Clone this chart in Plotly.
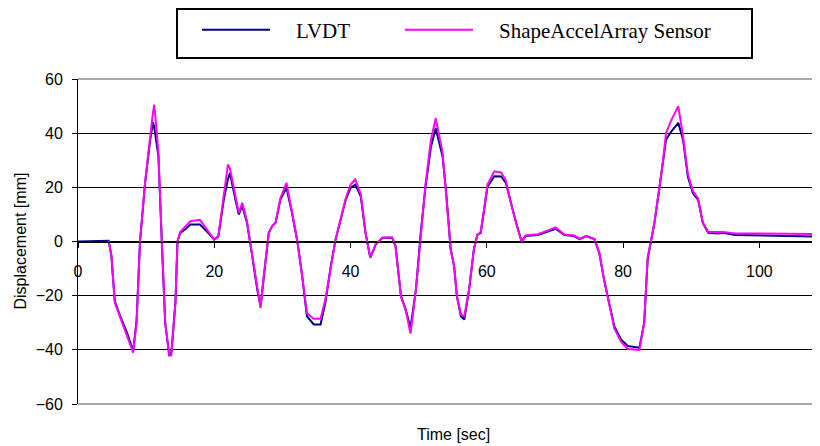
import plotly.graph_objects as go

# Time [sec]
time = [
    0, 4.0, 4.5, 4.9, 5.4, 6.2, 7.2, 8.1, 8.6, 9.1,
    9.85, 10.6, 11.0, 11.2, 11.8, 12.3, 12.8, 13.4, 13.7, 14.3,
    14.6, 15.0, 15.7, 16.5, 17.9, 18.9, 20.0, 20.6, 21.4, 22.0,
    22.3, 23.1, 23.6, 24.1, 24.8, 25.5, 26.3, 26.8, 27.25, 28.0,
    28.5, 29.0, 29.7, 30.6, 31.4, 32.2, 32.9, 33.6, 34.6, 35.6,
    36.3, 37.1, 37.8, 38.3, 39.3, 40.0, 40.7, 41.5, 42.2, 42.9,
    43.7, 44.7, 46.1, 46.6, 47.4, 48.1, 48.8, 49.6, 50.3, 51.0,
    51.8, 52.5, 53.5, 54.0, 54.7, 55.2, 55.6, 56.2, 56.7, 57.4,
    58.1, 58.6, 59.1, 59.6, 60.1, 61.1, 62.1, 62.8, 63.5, 64.3,
    65.1, 65.7, 67.5, 68.9, 70.1, 71.4, 72.8, 73.6, 74.6, 75.8,
    76.5, 77.2, 77.75, 78.7, 79.7, 80.7, 82.4, 83.1, 83.6, 84.1,
    84.6, 85.3, 85.8, 86.3, 87.1, 88.1, 88.8, 89.5, 90.25, 91.0,
    91.7, 92.5, 93.9, 94.7, 96.4, 102.3, 108.1, 108.5, 108.9,
]

# LVDT displacement [mm]
lvdt = [
    0, 0.5, 0.3, -5.4, -22.0, -27.6, -33.7, -40.5, -29.0, 0.0,
    21.6, 37.6, 44.0, 42.0, 31.5, 0.0, -30.0, -42.3, -41.0, -22.5,
    0.0, 3.2, 4.4, 6.3, 6.3, 3.8, 0.7, 1.9, 15.5, 23.0,
    25.3, 15.5, 10.0, 13.2, 6.9, -4.2, -17.7, -23.9, -12.8, 3.2,
    5.7, 6.9, 15.5, 19.8, 10.6, 0.0, -12.8, -27.6, -30.6, -30.6,
    -22.6, -9.1, 0.7, 5.7, 15.5, 19.8, 21.0, 16.7, 3.2, -6.0,
    -1.1, 1.4, 1.4, -1.7, -20.2, -25.1, -31.9, -17.7, 3.2, 20.2,
    35.0, 41.8, 31.5, 19.2, -2.9, -9.1, -20.2, -27.6, -28.8, -17.7,
    -2.9, 2.4, 3.2, 11.6, 20.2, 24.1, 24.0, 21.6, 14.3, 6.9,
    0.0, 2.0, 2.4, 3.8, 4.7, 2.4, 2.0, 0.9, 2.0, 0.9,
    -4.2, -14.0, -20.2, -31.3, -36.2, -38.6, -39.2, -30.0, -6.6, 0.7,
    6.9, 19.2, 27.8, 37.6, 40.7, 43.8, 37.6, 24.0, 17.8, 15.5,
    6.9, 3.2, 3.0, 3.2, 2.4, 2.0, 1.8, 5.7, 10.6,
]

# ShapeAccelArray sensor displacement [mm]
saa = [
    None, None, 0.3, -5.0, -22.5, -28.0, -34.5, -41.0, -30.0, 0.0,
    22.0, 40.0, 47.5, 50.5, 33.0, 0.0, -30.0, -42.0, -42.0, -22.5,
    0.0, 3.5, 5.5, 7.5, 8.0, 4.5, 0.7, 2.0, 16.0, 28.4,
    27.0, 16.0, 10.5, 14.3, 7.5, -4.0, -17.7, -24.5, -12.8, 3.2,
    5.7, 6.9, 16.0, 21.6, 11.0, 0.0, -12.8, -26.5, -28.5, -28.5,
    -21.5, -9.0, 0.7, 5.7, 16.0, 21.0, 22.9, 17.5, 3.2, -6.0,
    -1.0, 1.5, 1.5, -1.7, -20.2, -25.5, -34.0, -17.7, 3.2, 21.0,
    37.5, 45.5, 33.0, 19.2, -2.9, -9.1, -20.0, -27.0, -27.6, -17.7,
    -2.9, 2.4, 3.5, 12.0, 21.0, 25.9, 25.5, 22.5, 14.5, 6.9,
    0.0, 2.2, 2.7, 4.0, 5.2, 2.6, 2.2, 1.0, 2.0, 0.9,
    -4.0, -14.0, -20.5, -32.0, -37.0, -39.7, -40.0, -30.0, -6.0, 0.7,
    6.9, 19.5, 28.5, 40.0, 44.9, 50.0, 38.8, 25.0, 18.5, 16.0,
    7.0, 3.5, 3.4, 3.5, 3.0, 3.0, 2.8, None, None,
]

x_ticks = [0, 20, 40, 60, 80, 100]
y_ticks = [-60, -40, -20, 0, 20, 40, 60]

assert len(time) == len(lvdt) == len(saa)

PAD = "\u00a0\u00a0\u00a0\u00a0"

fig = go.Figure()
fig.add_trace(go.Scatter(
    x=time, y=lvdt, mode="lines", name=PAD + "LVDT",
    line=dict(color="#000080", width=2), legendwidth=120,
))
fig.add_trace(go.Scatter(
    x=time, y=saa, mode="lines", name=PAD + "ShapeAccelArray Sensor",
    line=dict(color="#FF00FF", width=2), connectgaps=False, legendwidth=240,
))

# the page has an 8px body margin, so the figure is 8px smaller than the window
OFF = 8
W, H = 820 - OFF, 446 - OFF
L, R, T, B = 78 - OFF, 0, 79 - OFF, 446 - 404
pw, ph = W - L - R, H - T - B

def px_to_paper_x(px):
    return (px - OFF - L) / pw

def px_to_paper_y(py):
    return (H - B - (py - OFF)) / ph

fig.update_layout(
    width=W, height=H,
    margin=dict(l=L, r=R, t=T, b=B),
    paper_bgcolor="white", plot_bgcolor="white",
    font=dict(family="Liberation Sans, Arial, sans-serif", size=16, color="black"),
    showlegend=True,
    legend=dict(
        orientation="h",
        x=px_to_paper_x(197), xanchor="left",
        y=px_to_paper_y(30), yanchor="middle",
        font=dict(family="Liberation Serif, Times New Roman, serif", size=21, color="black"),
        bgcolor="rgba(0,0,0,0)", borderwidth=0,
        itemwidth=68,
    ),
    xaxis=dict(
        range=[0, 108.9], tickvals=x_ticks,
        showgrid=False, zeroline=False,
        showline=True, linecolor="black", linewidth=1,
        ticks="outside", ticklen=5, tickcolor="black",
        anchor="free", position=0.5,
        ticklabelstandoff=10,
        tickfont=dict(size=16),
    ),
    yaxis=dict(
        range=[-60, 60], tickvals=y_ticks,
        showgrid=True, gridcolor="black", gridwidth=1,
        zeroline=False,
        showline=True, linecolor="black", linewidth=1,
        ticks="outside", ticklen=5, tickcolor="black",
        ticklabelstandoff=6,
        tickfont=dict(size=16),
    ),
    shapes=[
        dict(type="line", xref="paper", yref="paper", x0=0, x1=1, y0=1, y1=1,
             line=dict(color="#8c8c8c", width=1.5), layer="between"),
        dict(type="line", xref="paper", yref="paper", x0=0, x1=1, y0=0, y1=0,
             line=dict(color="#8c8c8c", width=1.5), layer="between"),
        dict(type="rect", xref="paper", yref="paper",
             x0=px_to_paper_x(177), x1=px_to_paper_x(752),
             y0=px_to_paper_y(58), y1=px_to_paper_y(9),
             line=dict(color="black", width=2), fillcolor="rgba(0,0,0,0)"),
    ],
    annotations=[
        dict(text="Displacement [mm]", xref="paper", yref="paper",
             x=px_to_paper_x(20), y=0.5, textangle=-90, showarrow=False,
             xanchor="center", yanchor="middle", font=dict(size=16)),
        dict(text="Time [sec]", xref="paper", yref="paper",
             x=px_to_paper_x(453), y=px_to_paper_y(434), showarrow=False,
             xanchor="center", yanchor="middle", font=dict(size=16)),
    ],
)

fig.write_html("out.html")
